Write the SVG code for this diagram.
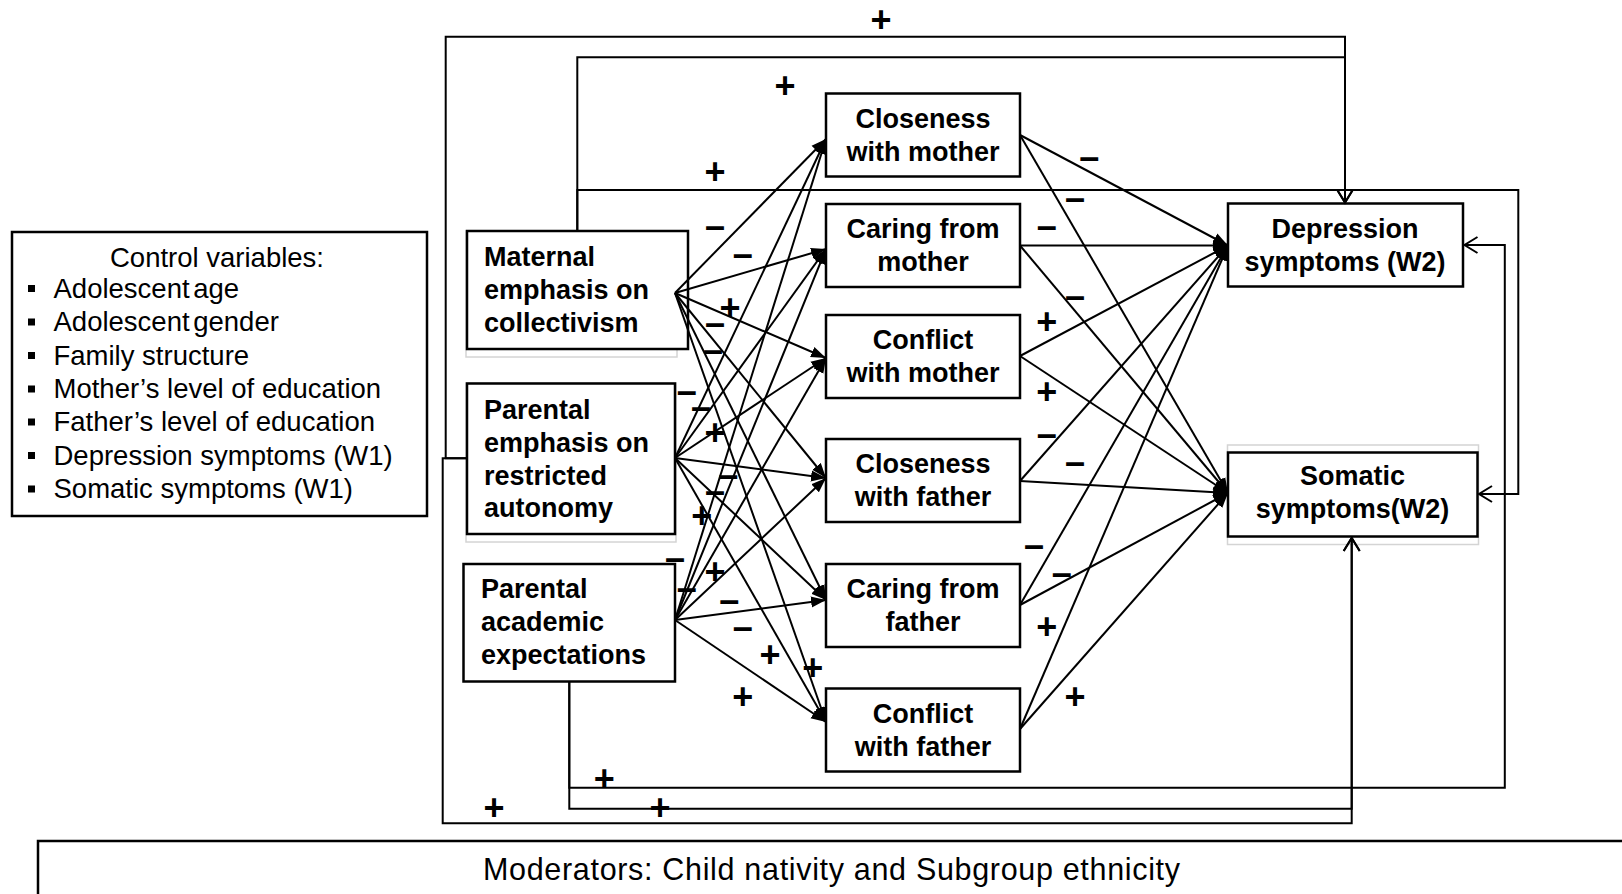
<svg xmlns="http://www.w3.org/2000/svg" width="1622" height="894" viewBox="0 0 1622 894">
  <defs>
    <style>
      .box { fill: #fff; stroke: #000; stroke-width: 2.5; }
      .ghost { fill: none; stroke: #d4d4d4; stroke-width: 1.5; }
      .plain { font-family: "Liberation Sans", Arial, sans-serif; font-size: 27.5px; fill: #000; }
      .node { font-family: "Liberation Sans", Arial, sans-serif; font-size: 27px; font-weight: bold; fill: #000; }
      .mid { text-anchor: middle; }
      .sign { font-family: "Liberation Sans", Arial, sans-serif; font-size: 36px; font-weight: bold; fill: #000; text-anchor: middle; }
      .path { fill: none; stroke: #000; stroke-width: 2; }
      .loop { fill: none; stroke: #000; stroke-width: 2; stroke-linejoin: miter; }
    </style>
    <marker id="solid" markerUnits="userSpaceOnUse" markerWidth="17" markerHeight="12" refX="15" refY="6" orient="auto">
      <path d="M0,0.5 L15,6 L0,11.5 Z" fill="#000"/>
    </marker>
    <marker id="open" markerUnits="userSpaceOnUse" markerWidth="16" markerHeight="20" refX="14" refY="10" orient="auto">
      <path d="M1,2 L14,10 L1,18" fill="none" stroke="#000" stroke-width="2"/>
    </marker>
  </defs>

  <rect width="1622" height="894" fill="#fff"/>

  <!-- control variables panel -->
  <g id="controls">
    <rect class="box" x="12" y="232" width="415" height="284"/>
    <text class="plain mid" x="217" y="266.5">Control variables:</text>
    <g fill="#000">
      <rect x="28" y="285" width="7" height="7"/>
      <rect x="28" y="318.5" width="7" height="7"/>
      <rect x="28" y="352" width="7" height="7"/>
      <rect x="28" y="385.5" width="7" height="7"/>
      <rect x="28" y="418.5" width="7" height="7"/>
      <rect x="28" y="452" width="7" height="7"/>
      <rect x="28" y="485.5" width="7" height="7"/>
    </g>
    <text class="plain" x="53.5" y="297.5" word-spacing="-4">Adolescent age</text>
    <text class="plain" x="53.5" y="331" word-spacing="-4">Adolescent gender</text>
    <text class="plain" x="53.5" y="364.5">Family structure</text>
    <text class="plain" x="53.5" y="398">Mother’s level of education</text>
    <text class="plain" x="53.5" y="431">Father’s level of education</text>
    <text class="plain" x="53.5" y="464.5">Depression symptoms (W1)</text>
    <text class="plain" x="53.5" y="498">Somatic symptoms (W1)</text>
  </g>

  <!-- moderators panel (runs past the right and bottom edges) -->
  <g id="moderators">
    <rect class="box" x="38" y="841" width="1620" height="90"/>
    <text class="plain" x="483" y="879.5" style="font-size:30.5px" textLength="697">Moderators: Child nativity and Subgroup ethnicity</text>
  </g>

  <!-- faint outlines behind some boxes -->
  <g id="ghosts">
    <rect class="ghost" x="466" y="231" width="211" height="126"/>
    <rect class="ghost" x="466" y="383" width="210" height="159"/>
    <line class="ghost" x1="463.5" y1="676" x2="675" y2="676"/>
    <rect class="ghost" x="1227.5" y="445" width="251" height="99.5"/>
  </g>

  <!-- predictors -->
  <g id="maternal-collectivism">
    <rect class="box" x="467" y="231" width="221" height="118"/>
    <text class="node" x="484" y="265.7">Maternal</text>
    <text class="node" x="484" y="299">emphasis on</text>
    <text class="node" x="484" y="332.3">collectivism</text>
  </g>
  <g id="restricted-autonomy">
    <rect class="box" x="467" y="383.5" width="208" height="150.5"/>
    <text class="node" x="484" y="419">Parental</text>
    <text class="node" x="484" y="451.7">emphasis on</text>
    <text class="node" x="484" y="485">restricted</text>
    <text class="node" x="484" y="517">autonomy</text>
  </g>
  <g id="academic-expectations">
    <rect class="box" x="463.5" y="564" width="211.5" height="117.5"/>
    <text class="node" x="481" y="598.3">Parental</text>
    <text class="node" x="481" y="630.7">academic</text>
    <text class="node" x="481" y="664">expectations</text>
  </g>

  <!-- mediators -->
  <g id="closeness-mother">
    <rect class="box" x="826" y="93.5" width="194" height="83"/>
    <text class="node mid" x="923" y="127.5">Closeness</text>
    <text class="node mid" x="923" y="160.5">with mother</text>
  </g>
  <g id="caring-mother">
    <rect class="box" x="826" y="204" width="194" height="83"/>
    <text class="node mid" x="923" y="238">Caring from</text>
    <text class="node mid" x="923" y="271">mother</text>
  </g>
  <g id="conflict-mother">
    <rect class="box" x="826" y="315" width="194" height="83"/>
    <text class="node mid" x="923" y="349">Conflict</text>
    <text class="node mid" x="923" y="382">with mother</text>
  </g>
  <g id="closeness-father">
    <rect class="box" x="826" y="439" width="194" height="83"/>
    <text class="node mid" x="923" y="473">Closeness</text>
    <text class="node mid" x="923" y="506">with father</text>
  </g>
  <g id="caring-father">
    <rect class="box" x="826" y="564" width="194" height="83"/>
    <text class="node mid" x="923" y="598">Caring from</text>
    <text class="node mid" x="923" y="631">father</text>
  </g>
  <g id="conflict-father">
    <rect class="box" x="826" y="688.5" width="194" height="83"/>
    <text class="node mid" x="923" y="722.5">Conflict</text>
    <text class="node mid" x="923" y="755.5">with father</text>
  </g>

  <!-- outcomes -->
  <g id="depression-w2">
    <rect class="box" x="1228" y="203.5" width="235" height="83"/>
    <text class="node mid" x="1345" y="238">Depression</text>
    <text class="node mid" x="1345" y="271">symptoms (W2)</text>
  </g>
  <g id="somatic-w2">
    <rect class="box" x="1228" y="452.5" width="249.5" height="84"/>
    <text class="node mid" x="1352.5" y="485">Somatic</text>
    <text class="node mid" x="1352.5" y="518">symptoms(W2)</text>
  </g>

  <!-- connectors -->
  <g id="connectors">
    <!-- predictors to mediators -->
    <g class="path" marker-end="url(#solid)">
      <path d="M675,293 L826,139"/>
      <path d="M675,293 L826,249"/>
      <path d="M675,293 L826,358"/>
      <path d="M675,293 L826,478"/>
      <path d="M675,293 L826,600"/>
      <path d="M675,293 L826,722"/>
      <path d="M675,458 L826,139"/>
      <path d="M675,458 L826,249"/>
      <path d="M675,458 L826,358"/>
      <path d="M675,458 L826,478"/>
      <path d="M675,458 L826,600"/>
      <path d="M675,458 L826,722"/>
      <path d="M675,620 L826,139"/>
      <path d="M675,620 L826,249"/>
      <path d="M675,620 L826,358"/>
      <path d="M675,620 L826,478"/>
      <path d="M675,620 L826,600"/>
      <path d="M675,620 L826,722"/>
    </g>
    <!-- mediators to outcomes -->
    <g class="path" marker-end="url(#solid)">
      <path d="M1020,135 L1228,245.5"/>
      <path d="M1020,135 L1228,493"/>
      <path d="M1020,245.5 L1228,245.5"/>
      <path d="M1020,245.5 L1228,493"/>
      <path d="M1020,356 L1228,245.5"/>
      <path d="M1020,356 L1228,493"/>
      <path d="M1020,481 L1228,245.5"/>
      <path d="M1020,481 L1228,493"/>
      <path d="M1020,605 L1228,245.5"/>
      <path d="M1020,605 L1228,493"/>
      <path d="M1020,729 L1228,245.5"/>
      <path d="M1020,729 L1228,493"/>
    </g>
    <!-- direct paths from predictors to outcomes -->
    <g class="loop" marker-end="url(#open)">
      <path d="M467,458.3 H445.7 V36.7 H1345 V202.5"/>
      <path d="M577.3,231 V57.3 H1345 V202.5"/>
      <path d="M577.3,231 V190 H1518.3 V494 H1479"/>
      <path d="M467,458.3 H442.7 V823.3 H1351.7 V538"/>
      <path d="M569.3,681.7 V787.7 H1504.8 V245 H1464.5"/>
      <path d="M569.3,681.7 V808.7 H1351.7 V538"/>
    </g>
  </g>

  <!-- path signs -->
  <g id="signs">
    <text class="sign" x="881" y="32">+</text>
    <text class="sign" x="785" y="98">+</text>
    <text class="sign" x="715" y="183.5">+</text>
    <text class="sign" x="604.3" y="791.3">+</text>
    <text class="sign" x="660" y="819.7">+</text>
    <text class="sign" x="494" y="819.7">+</text>

    <text class="sign" x="715" y="238.3">–</text>
    <text class="sign" x="742.7" y="266">–</text>
    <text class="sign" x="730" y="320.3">+</text>
    <text class="sign" x="715" y="335">–</text>
    <text class="sign" x="713" y="361.7">–</text>
    <text class="sign" x="686.7" y="403.3">–</text>
    <text class="sign" x="701" y="419.3">–</text>
    <text class="sign" x="715" y="444.7">+</text>
    <text class="sign" x="728.3" y="486.7">–</text>
    <text class="sign" x="715" y="502.7">–</text>
    <text class="sign" x="701.7" y="528">+</text>
    <text class="sign" x="675" y="570">–</text>
    <text class="sign" x="715" y="583.7">+</text>
    <text class="sign" x="686.7" y="600">–</text>
    <text class="sign" x="729.3" y="612.3">–</text>
    <text class="sign" x="742.7" y="639.3">–</text>
    <text class="sign" x="770" y="667">+</text>
    <text class="sign" x="812.7" y="680.3">+</text>
    <text class="sign" x="742.7" y="709.3">+</text>

    <text class="sign" x="1089.3" y="169">–</text>
    <text class="sign" x="1075" y="210">–</text>
    <text class="sign" x="1046.7" y="237.7">–</text>
    <text class="sign" x="1075" y="307.7">–</text>
    <text class="sign" x="1046.7" y="334.3">+</text>
    <text class="sign" x="1046.7" y="403.7">+</text>
    <text class="sign" x="1046.7" y="446">–</text>
    <text class="sign" x="1075" y="473.5">–</text>
    <text class="sign" x="1034" y="557.3">–</text>
    <text class="sign" x="1061.7" y="585">–</text>
    <text class="sign" x="1046.7" y="638.7">+</text>
    <text class="sign" x="1075" y="709.3">+</text>
  </g>
</svg>
